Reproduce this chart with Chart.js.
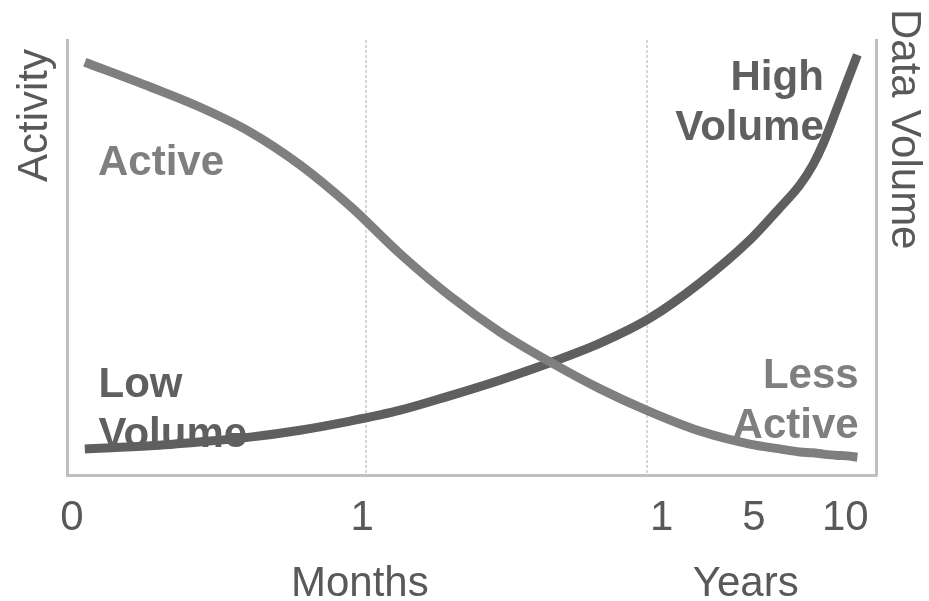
<!DOCTYPE html>
<html>
<head>
<meta charset="utf-8">
<script src="https://cdn.jsdelivr.net/npm/chart.js@4/dist/chart.umd.min.js"></script>
<style>
  html, body { margin: 0; padding: 0; background: #ffffff; }
  #wrap { position: relative; width: 929px; height: 601px; }
</style>
</head>
<body>
<div id="wrap"><canvas id="lifecycle"></canvas></div>
<script>
// Position along the timeline (0-100 axis units) and the two curves sampled there
const timeline   = [2.2, 10.3, 16.4, 22.6, 28.8, 35.0, 41.2, 47.3, 53.5, 59.7, 65.9, 72.1, 78.2, 84.4, 88.1, 90.6, 92.2, 93.5, 95.2, 96.4, 97.7];
const activity   = [94.9, 89.2, 84.6, 78.9, 71.3, 61.8, 50.8, 41.2, 32.9, 26.0, 19.8, 14.5, 10.1, 7.1, 6.0, 5.3, 5.1, 4.8, 4.5, 4.4, 4.1];
const dataVolume = [6.0, 6.7, 7.6, 8.7, 10.3, 12.4, 14.9, 18.2, 21.8, 25.8, 30.3, 36.1, 44.1, 54.0, 61.4, 66.7, 71.3, 76.3, 84.4, 90.3, 96.6];

// Timeline ticks
const tickPositions = [0.6, 36.5, 73.5, 84.9, 96.2];
const tickLabels    = ['0', '1', '1', '5', '10'];

// Time periods and where one period gives way to the next
const periodCenters = [36.2, 83.9];
const periodLabels  = ['Months', 'Years'];
const periodBreaks  = [37.0, 71.7];

const FONT = '"Liberation Sans", Arial, Helvetica, sans-serif';
const AXIS_TEXT = '#595959';
const LIGHT = '#7f7f7f';
const DARK = '#5f5f5f';
const FRAME = '#bfbfbf';
const BREAK_COLOR = '#cdd9da';

// Curve captions, anchored in axis units
const captions = [
  { lines: ['Active'],         x: 3.83,  y: 68.9, align: 'left',  color: LIGHT },
  { lines: ['Low', 'Volume'],  x: 3.9,   y: 17.9, align: 'left',  color: DARK },
  { lines: ['High', 'Volume'], x: 93.55, y: 88.5, align: 'right', color: DARK },
  { lines: ['Less', 'Active'], x: 97.85, y: 20.0, align: 'right', color: LIGHT }
];

const toPoints = (ys) => ys.map((y, i) => ({ x: timeline[i], y }));

const backdrop = {
  id: 'backdrop',
  beforeDatasetsDraw(chart) {
    const { ctx, chartArea, scales } = chart;
    ctx.save();
    // dotted period separators
    ctx.strokeStyle = BREAK_COLOR;
    ctx.lineWidth = 2;
    ctx.setLineDash([3, 2]);
    periodBreaks.forEach(v => {
      const px = Math.round(scales.x.getPixelForValue(v));
      ctx.beginPath();
      ctx.moveTo(px, chartArea.top);
      ctx.lineTo(px, chartArea.bottom);
      ctx.stroke();
    });
    ctx.setLineDash([]);
    // curve captions (lines are drawn over them)
    ctx.font = 'bold 42px ' + FONT;
    ctx.textBaseline = 'alphabetic';
    captions.forEach(c => {
      ctx.fillStyle = c.color;
      ctx.textAlign = c.align;
      const px = scales.x.getPixelForValue(c.x);
      const py = scales.y.getPixelForValue(c.y);
      c.lines.forEach((t, i) => ctx.fillText(t, px, py + i * 50));
    });
    ctx.restore();
  },
  afterDraw(chart) {
    const { ctx } = chart;
    ctx.save();
    ctx.font = '42px ' + FONT;
    ctx.fillStyle = AXIS_TEXT;
    ctx.textBaseline = 'alphabetic';
    ctx.textAlign = 'left';
    // left axis title, reading upward
    ctx.save();
    ctx.translate(47, 182);
    ctx.rotate(-Math.PI / 2);
    ctx.fillText('Activity', 0, 0);
    ctx.restore();
    // right axis title, reading downward
    ctx.save();
    ctx.translate(892, 9);
    ctx.rotate(Math.PI / 2);
    ctx.fillText('Data Volume', 0, 0);
    ctx.restore();
    ctx.restore();
  }
};

new Chart(document.getElementById('lifecycle'), {
  type: 'line',
  data: {
    datasets: [
      {
        label: 'Activity',
        data: toPoints(activity),
        yAxisID: 'y',
        borderColor: LIGHT,
        borderWidth: 9,
        pointRadius: 0,
        cubicInterpolationMode: 'monotone',
        borderCapStyle: 'butt'
      },
      {
        label: 'Data Volume',
        data: toPoints(dataVolume),
        yAxisID: 'y1',
        borderColor: DARK,
        borderWidth: 9,
        pointRadius: 0,
        cubicInterpolationMode: 'monotone',
        borderCapStyle: 'butt'
      }
    ]
  },
  options: {
    responsive: true,
    maintainAspectRatio: false,
    animation: false,
    events: [],
    layout: { padding: { top: 40, left: 0, right: 0, bottom: 0 } },
    plugins: { legend: { display: false }, tooltip: { enabled: false } },
    scales: {
      x: {
        type: 'linear',
        position: 'bottom',
        weight: 0,
        min: 0,
        max: 100,
        grid: { display: false, drawTicks: false },
        border: { display: true, color: FRAME, width: 3 },
        afterBuildTicks: (scale) => { scale.ticks = tickPositions.map(v => ({ value: v })); },
        afterFit: (scale) => { scale.height = 70; },
        ticks: {
          autoSkip: false,
          maxRotation: 0,
          padding: 18,
          color: AXIS_TEXT,
          font: { family: FONT, size: 42 },
          callback: (value, index) => tickLabels[index]
        }
      },
      period: {
        type: 'linear',
        position: 'bottom',
        weight: 1,
        min: 0,
        max: 100,
        grid: { display: false, drawTicks: false },
        border: { display: false },
        afterBuildTicks: (scale) => { scale.ticks = periodCenters.map(v => ({ value: v })); },
        afterFit: (scale) => { scale.height = 56; },
        ticks: {
          autoSkip: false,
          maxRotation: 0,
          padding: 14,
          color: AXIS_TEXT,
          font: { family: FONT, size: 42 },
          callback: (value, index) => periodLabels[index]
        }
      },
      y: {
        position: 'left',
        min: 0,
        max: 100,
        grid: { display: false },
        ticks: { display: false },
        border: { display: true, color: FRAME, width: 3 },
        afterFit: (scale) => { scale.width = 67; }
      },
      y1: {
        position: 'right',
        min: 0,
        max: 100,
        grid: { display: false },
        ticks: { display: false },
        border: { display: true, color: FRAME, width: 3 },
        afterFit: (scale) => { scale.width = 53; }
      }
    }
  },
  plugins: [backdrop]
});
</script>
</body>
</html>
